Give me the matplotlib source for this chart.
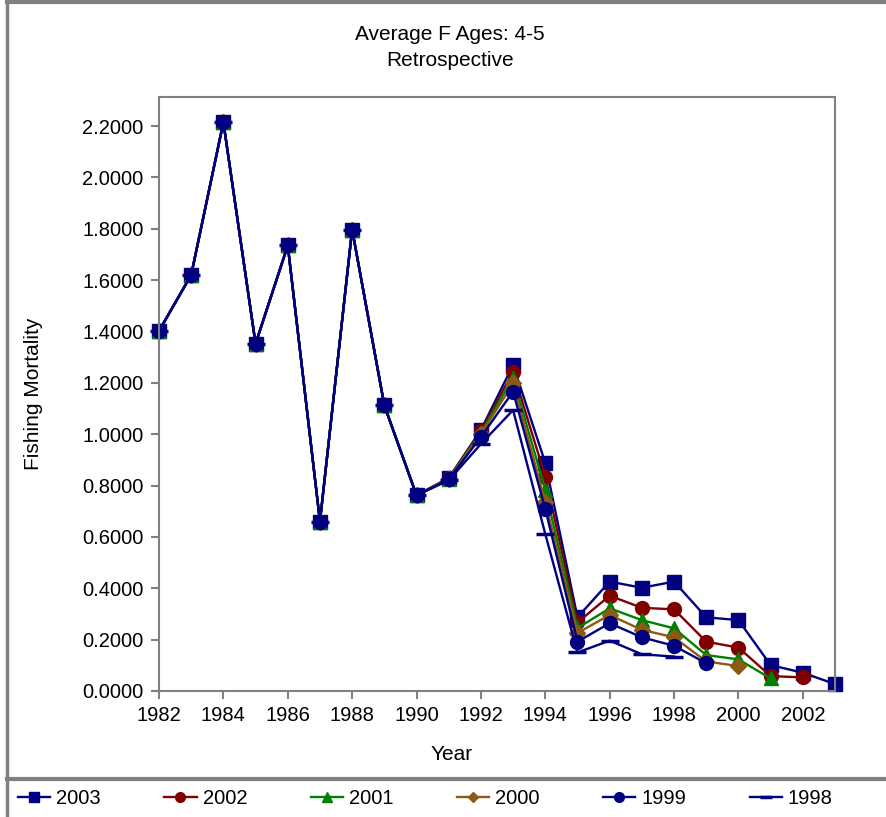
import matplotlib.pyplot as plt
from matplotlib.lines import Line2D

plt.rcParams['font.family'] = ['Liberation Sans', 'DejaVu Sans']

# shared early part of all runs (1982-1990)
early = [1.402, 1.620, 2.215, 1.352, 1.735, 0.660, 1.797, 1.112, 0.762]

years03 = list(range(1982, 2004))
f2003 = early + [0.829, 1.016, 1.270, 0.888, 0.287, 0.426, 0.402, 0.426, 0.287, 0.276, 0.101, 0.071, 0.027]
f2002 = early + [0.829, 1.012, 1.243, 0.835, 0.267, 0.371, 0.324, 0.318, 0.192, 0.169, 0.058, 0.053]
f2001 = early + [0.827, 1.005, 1.220, 0.783, 0.245, 0.322, 0.276, 0.244, 0.140, 0.123, 0.049]
f2000 = early + [0.826, 1.000, 1.198, 0.737, 0.226, 0.296, 0.238, 0.209, 0.115, 0.097]
f1999 = early + [0.824, 0.989, 1.166, 0.709, 0.192, 0.264, 0.209, 0.176, 0.108]
f1998 = early + [0.820, 0.962, 1.094, 0.611, 0.150, 0.196, 0.143, 0.134]

series = [
    ("2003", f2003, "#000080", "s"),
    ("2002", f2002, "#800000", "o"),
    ("2001", f2001, "#008000", "^"),
    ("2000", f2000, "#8c5a14", "D"),
    ("1999", f1999, "#000080", "o"),
    ("1998", f1998, "#000080", "_"),
]

fig = plt.figure(figsize=(8.86, 8.17), dpi=100)
ax = fig.add_axes([159 / 886, 1 - 691 / 817, 676 / 886, 594 / 817])

handles = []
for name, vals, col, mk in series:
    yrs = years03[:len(vals)]
    if mk == "_":
        ln, = ax.plot(yrs, vals, color=col, lw=1.7, marker=mk, ms=13, mew=2.5, label=name)
    elif mk == "D":
        ln, = ax.plot(yrs, vals, color=col, lw=1.7, marker=mk, ms=8, mec=col, label=name)
    else:
        ln, = ax.plot(yrs, vals, color=col, lw=1.7, marker=mk, ms=10, mec=col, label=name)
    ln.set_clip_on(False)
    handles.append(ln)

ax.set_xlim(1982, 2003)
ax.set_ylim(0, 2.313)
ax.set_xticks(range(1982, 2003, 2))
ax.set_yticks([i * 0.2 for i in range(12)])
ax.set_yticklabels([f"{i * 0.2:.4f}" for i in range(12)])
for sp in ax.spines.values():
    sp.set_color("#808080")
    sp.set_linewidth(1.5)
ax.tick_params(direction="out", length=6, width=1.5, color="#808080", labelsize=14.5, pad=5)

fig.text(450 / 886, 1 - 34 / 817, "Average F Ages: 4-5", ha="center", va="center", fontsize=15)
fig.text(450 / 886, 1 - 61 / 817, "Retrospective", ha="center", va="center", fontsize=15)
fig.text(452 / 886, 1 - 755 / 817, "Year", ha="center", va="center", fontsize=15)
fig.text(34 / 886, 1 - 394 / 817, "Fishing Mortality", ha="center", va="center",
         rotation=90, fontsize=15)

# outer frame and legend separator
grey = "#808080"
fig.add_artist(Line2D([7 / 886, 7 / 886], [0, 1], transform=fig.transFigure, color=grey, lw=2.5))
fig.add_artist(Line2D([7 / 886, 1], [1 - 1.5 / 817, 1 - 1.5 / 817], transform=fig.transFigure, color=grey, lw=3))
fig.add_artist(Line2D([7 / 886, 1], [1 - 779 / 817, 1 - 779 / 817], transform=fig.transFigure, color=grey, lw=3))

leg = fig.legend(handles=handles, labels=[s[0] for s in series], ncol=6,
                 loc="center left", bbox_to_anchor=(18 / 886, 1 - 799 / 817),
                 frameon=False, fontsize=14.5, handlelength=1.6, handletextpad=0.3,
                 columnspacing=3.15, markerscale=0.7, borderaxespad=0, borderpad=0)

fig.savefig("out.png", dpi=100)
